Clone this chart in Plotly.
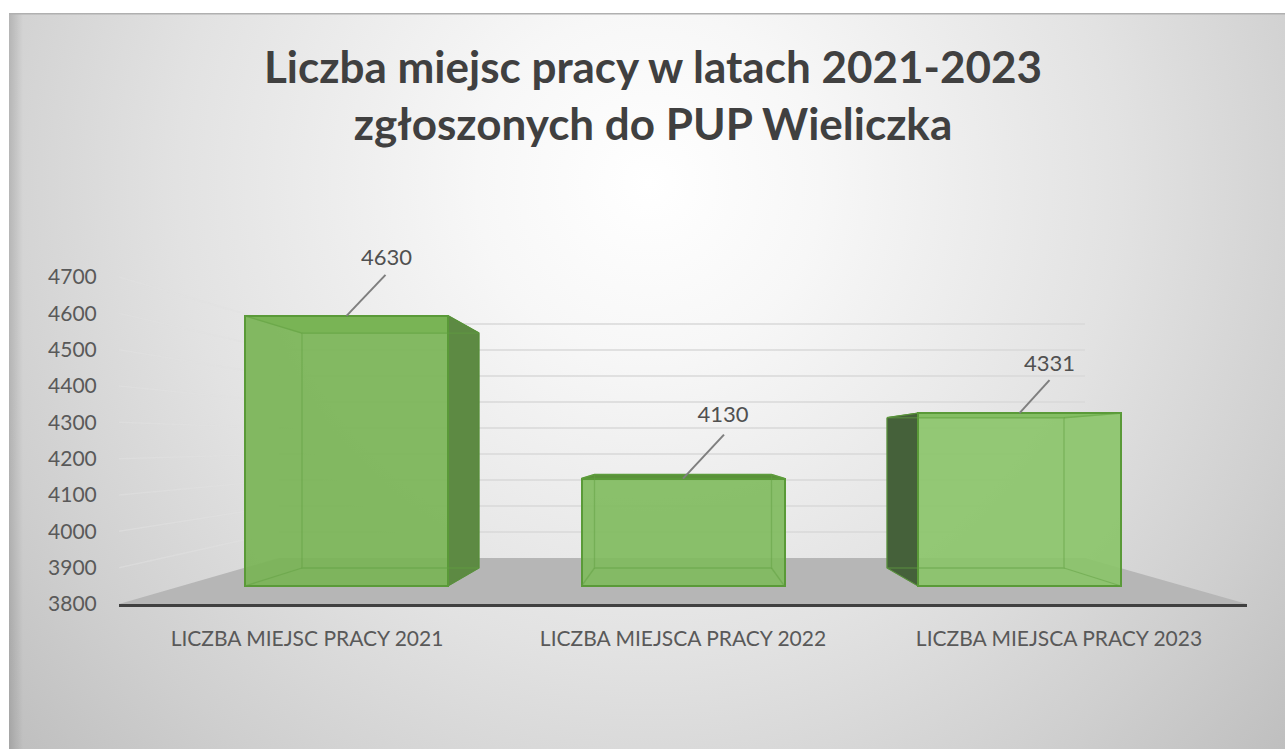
import urllib.parse
import plotly.graph_objects as go

TITLE = "Liczba miejsc pracy w latach 2021-2023<br>zgłoszonych do PUP Wieliczka"
CATEGORIES = ["LICZBA MIEJSC PRACY 2021", "LICZBA MIEJSCA PRACY 2022", "LICZBA MIEJSCA PRACY 2023"]
VALUES = [4630, 4130, 4331]
TICKS = [3800, 3900, 4000, 4100, 4200, 4300, 4400, 4500, 4600, 4700]

W, H = 1285, 749
FONT = "Lato"
BASE = 3800

# perspective planes: centre x, x step per category, half bar width, baseline y, px per value unit
FRONT = dict(cx=683.0, dx=336.5, hw=101.5, y0=586.0, k=0.3255)
BACK = dict(cx=683.0, dx=292.5, hw=88.5, y0=568.0, k=0.283)
WALL = dict(cx=682.0, dx=268.67, hw=0.0, y0=558.0, k=0.26)
AXIS = dict(cx=683.0, dx=376.0, hw=0.0, y0=604.0, k=0.3633)


def to_scene(px, py):
    return (px - FRONT["cx"]) / FRONT["dx"] + 1, BASE + (FRONT["y0"] - py) / FRONT["k"]


def project(plane, i, side, v, ox=0.0, oy=0.0):
    px = plane["cx"] + (i - 1) * plane["dx"] + side * plane["hw"] + ox
    py = plane["y0"] - (v - BASE) * plane["k"] + oy
    return to_scene(px, py)


def poly(points):
    return [p[0] for p in points], [p[1] for p in points]


def area(points, color, axes, line=None, lw=0):
    xs, ys = poly(points + [points[0]])
    return go.Scatter(x=xs, y=ys, mode="lines", fill="toself", fillcolor=color,
                      line=dict(color=line or "rgba(0,0,0,0)", width=lw),
                      xaxis=axes[0], yaxis=axes[1], hoverinfo="skip", showlegend=False)


def lines(segments, color, width, axes):
    xs, ys = [], []
    for seg in segments:
        for p in seg:
            xs.append(p[0]); ys.append(p[1])
        xs.append(None); ys.append(None)
    return go.Scatter(x=xs, y=ys, mode="lines", line=dict(color=color, width=width),
                      xaxis=axes[0], yaxis=axes[1], hoverinfo="skip", showlegend=False)


fig = go.Figure()
BEHIND = ("x2", "y2")
AHEAD = ("x3", "y3")

# main axes: carries the value ticks and category labels
fig.add_trace(go.Scatter(x=CATEGORIES, y=VALUES, mode="markers", marker=dict(opacity=0),
                         hoverinfo="skip", showlegend=False))

# floor
fig.add_trace(area([project(AXIS, -0.5, 0, BASE), project(AXIS, 2.5, 0, BASE),
                    project(WALL, 2.5, 0, BASE), project(WALL, -0.5, 0, BASE)],
                   "#b6b6b6", BEHIND))
# wall gridlines
fig.add_trace(lines([[project(WALL, -0.5, 0, t), project(WALL, 2.5, 0, t)] for t in TICKS[1:]],
                    "#d9d9d9", 1.5, BEHIND))
fig.add_trace(lines([[project(AXIS, -0.5, 0, t), project(WALL, -0.5, 0, t)] for t in TICKS[1:]],
                    "rgba(226,226,226,0.5)", 1.5, BEHIND))

SIDE_FACE = [1, None, -1]
SIDE_COLOR = ["#5d8a43", None, "#45613a"]
TOP_COLOR = ["#75ad55", "#5a9039", "#4f8436"]
FRONT_COLOR = ["rgba(122,180,86,0.92)", "rgba(126,186,92,0.9)", "rgba(138,196,104,0.9)"]
EDGE = "#5a9a38"
INNER = "rgba(98,160,66,0.5)"

for i, v in enumerate(VALUES):
    fig.add_trace(area([project(FRONT, i, -1, v), project(FRONT, i, 1, v),
                        project(BACK, i, 1, v), project(BACK, i, -1, v)],
                       TOP_COLOR[i], BEHIND, EDGE, 1.5))
    s = SIDE_FACE[i]
    if s is not None:
        fig.add_trace(area([project(FRONT, i, s, BASE), project(FRONT, i, s, v),
                            project(BACK, i, s, v), project(BACK, i, s, BASE)],
                           SIDE_COLOR[i], BEHIND, "#4f7f35", 1))

# front faces, from the values
fig.add_trace(go.Bar(x=[0, 1, 2], y=[v - BASE for v in VALUES], base=BASE,
                     width=2 * FRONT["hw"] / FRONT["dx"],
                     marker=dict(color=FRONT_COLOR, line=dict(color=EDGE, width=2)),
                     xaxis="x3", yaxis="y3", hoverinfo="skip", showlegend=False))

# inner edges of each box
for i, v in enumerate(VALUES):
    bl, br = project(BACK, i, -1, BASE), project(BACK, i, 1, BASE)
    tl, tr = project(BACK, i, -1, v), project(BACK, i, 1, v)
    fig.add_trace(lines([[tl, tr, br, bl, tl],
                         [project(FRONT, i, -1, v), tl],
                         [project(FRONT, i, 1, v), tr],
                         [project(FRONT, i, -1, BASE), bl],
                         [project(FRONT, i, 1, BASE), br]], INNER, 1.3, AHEAD))

# leader lines and data labels
LEADER_END = [(39, -41), (41, -44), (30, -33)]
LABEL_AT = [(40, -56), (40, -62), (30, -48)]
fig.add_trace(lines([[project(FRONT, i, 0, v), project(FRONT, i, 0, v, *LEADER_END[i])]
                     for i, v in enumerate(VALUES)], "#7f7f7f", 2, AHEAD))
pts = [project(FRONT, i, 0, v, *LABEL_AT[i]) for i, v in enumerate(VALUES)]
fig.add_trace(go.Scatter(x=[p[0] for p in pts], y=[p[1] for p in pts], mode="text",
                         text=[str(v) for v in VALUES], textposition="middle center",
                         textfont=dict(family=FONT, size=22, color="#505050"),
                         xaxis="x3", yaxis="y3", hoverinfo="skip", showlegend=False))

svg = ('<svg xmlns="http://www.w3.org/2000/svg" width="1276" height="736">'
       '<defs><radialGradient id="g" gradientUnits="userSpaceOnUse" cx="640" cy="170" r="860">'
       '<stop offset="0" stop-color="#ffffff"/><stop offset="0.2" stop-color="#f7f7f7"/>'
       '<stop offset="0.55" stop-color="#e2e2e2"/><stop offset="0.8" stop-color="#cfcfcf"/>'
       '<stop offset="1" stop-color="#bebebe"/></radialGradient>'
       '<linearGradient id="e"><stop offset="0" stop-color="#000000" stop-opacity="0.14"/>'
       '<stop offset="1" stop-color="#000000" stop-opacity="0"/></linearGradient></defs>'
       '<rect width="1276" height="736" fill="url(#g)"/>'
       '<rect width="14" height="736" fill="url(#e)"/>'
       '<rect width="1276" height="1.5" fill="#b0b0b0"/></svg>')
src = "data:image/svg+xml;charset=utf-8," + urllib.parse.quote(svg)

xr = [to_scene(0, 0)[0], to_scene(W, 0)[0]]
yr = [to_scene(0, H)[1], to_scene(0, 0)[1]]
hidden = dict(visible=False, domain=[0, 1], fixedrange=True, showgrid=False, zeroline=False, automargin=False)

fig.update_layout(
    width=W, height=H, margin=dict(l=0, r=0, t=0, b=0, pad=0, autoexpand=False),
    paper_bgcolor="white", plot_bgcolor="rgba(0,0,0,0)",
    showlegend=False, bargap=0,
    images=[dict(source=src, xref="paper", yref="paper", x=9 / W, y=1 - 13 / H,
                 sizex=1 - 9 / W, sizey=1 - 13 / H, sizing="stretch",
                 xanchor="left", yanchor="top", layer="below")],
    title=dict(text=TITLE, x=653 / W, xanchor="center", y=1 - 83 / H, yanchor="top",
               font=dict(family=FONT, size=44, color="#404040", weight=700)),
    xaxis=dict(type="category", categoryorder="array", categoryarray=CATEGORIES, range=[-0.5, 2.5],
               domain=[119 / W, 1247 / W], showline=True, linecolor="#404040", linewidth=3,
               ticks="outside", ticklen=14, tickcolor="rgba(0,0,0,0)", showgrid=False, zeroline=False,
               tickfont=dict(family=FONT, size=21, color="#595959"), tickangle=0, automargin=False),
    yaxis=dict(range=[3800, 4700], domain=[(H - 604) / H, (H - 277) / H], tickmode="array",
               tickvals=TICKS, showline=False, showgrid=False, zeroline=False,
               ticks="outside", ticklen=17, tickcolor="rgba(0,0,0,0)",
               tickfont=dict(family=FONT, size=21, color="#595959"), automargin=False),
    xaxis2=dict(range=xr, anchor="y2", **hidden),
    yaxis2=dict(range=yr, anchor="x2", **hidden),
    xaxis3=dict(range=xr, anchor="y3", **hidden),
    yaxis3=dict(range=yr, anchor="x3", **hidden),
)

fig.write_html("out.html", include_plotlyjs=True, config=dict(displayModeBar=False),
               post_script="document.body.style.margin='0';document.documentElement.style.overflow='hidden';")
